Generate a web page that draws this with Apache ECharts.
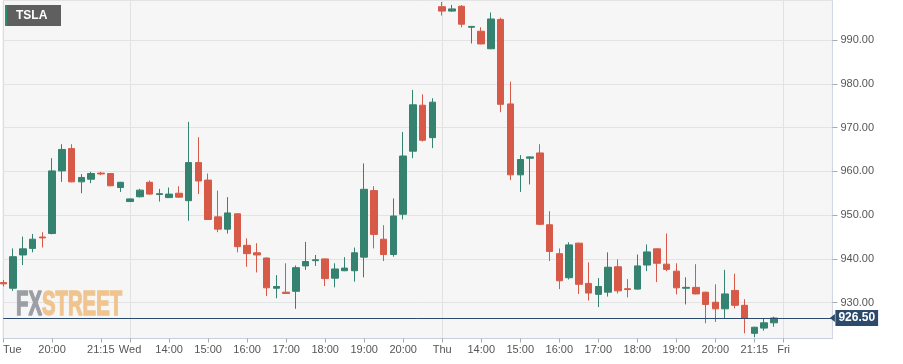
<!DOCTYPE html>
<html>
<head>
<meta charset="utf-8">
<script src="https://cdn.jsdelivr.net/npm/echarts@6/dist/echarts.min.js"></script>
<style>html,body{margin:0;padding:0;background:#fff}#c{width:903px;height:364px}</style>
</head>
<body>
<div id="c"></div>
<script>
// 15-minute candles: open, close, low, high
const opens  = [934.6,933.3,940.9,942.4,945.0,945.8,960.1,965.2,957.6,958.2,959.6,959.5,956.3,953.1,954.2,957.5,954.7,954.0,955.0,953.3,962.0,958.0,949.6,946.8,950.3,943.1,941.4,940.2,933.3,932.4,932.6,938.4,939.6,940.0,935.6,937.3,937.3,940.4,955.6,944.5,941.0,950.2,964.6,975.1,967.7,997.6,996.6,997.7,992.9,992.0,988.0,994.7,975.4,959.2,963.0,964.2,947.8,941.2,935.7,943.6,934.4,931.9,932.4,938.2,933.2,933.1,938.6,942.3,938.8,937.2,933.3,933.5,932.4,930.1,928.6,932.8,929.4,923.0,924.2,925.4];
const closes = [934.3,940.5,942.3,944.5,944.8,960.1,965.0,957.6,958.6,959.5,959.4,956.7,957.5,953.7,955.7,954.8,954.9,954.8,954.1,962.0,957.8,949.0,946.8,950.5,942.8,941.2,940.9,933.4,933.7,932.1,938.0,939.4,939.8,935.5,937.7,937.9,941.4,955.9,945.6,941.0,949.8,963.5,975.2,967.1,975.8,996.6,997.1,993.6,993.1,989.1,994.8,975.3,959.2,962.7,963.3,947.9,941.7,935.0,943.2,934.2,932.2,933.7,938.1,932.7,933.0,938.4,941.6,939.0,937.6,933.4,933.5,932.0,929.6,928.6,932.0,929.4,926.5,924.4,925.4,926.5];
const lows   = [933.7,932.7,938.6,941.5,942.6,945.6,957.6,957.5,955.0,957.3,959.1,956.6,955.3,953.0,954.0,954.7,953.1,953.9,954.0,948.7,954.8,948.9,946.1,945.8,941.5,938.2,936.9,931.5,931.0,932.0,928.6,937.5,938.4,933.8,933.5,937.2,934.8,935.8,942.4,939.5,940.5,949.0,963.0,966.8,965.3,995.6,996.5,992.9,989.2,989.0,987.9,973.5,958.0,955.3,957.0,947.7,939.5,933.1,935.3,932.0,930.5,929.0,931.4,932.1,931.2,933.0,937.2,934.7,937.2,931.9,929.6,931.9,925.3,925.6,926.5,928.7,923.0,922.1,923.6,924.5];
const highs  = [935.2,942.4,945.1,945.7,946.1,963.0,966.2,966.2,959.4,959.9,959.9,959.6,957.6,953.8,956.0,957.9,956.0,956.3,956.6,971.3,967.8,959.5,955.6,954.1,950.4,944.7,943.6,940.3,936.3,939.0,938.5,943.9,940.9,940.1,939.0,940.4,942.6,961.8,956.6,947.7,953.8,969.0,978.6,977.6,976.7,998.7,998.0,998.0,993.2,992.9,996.3,995.1,980.5,963.7,963.4,966.2,950.9,942.4,943.8,943.7,939.2,935.6,941.5,939.9,935.4,941.0,943.3,942.4,945.8,939.0,935.8,938.8,932.5,934.2,937.5,936.6,930.8,924.5,926.3,926.8];

// x-axis slots (80 candles + 6 empty slots) and tick labels
const slotCount = 86;
const tickIdx  = [0,5,10,13,17,21,25,29,33,37,41,45,49,53,57,61,65,69,73,77,80];
const tickText = ['Tue','20:00','21:15','Wed','14:00','15:00','16:00','17:00','18:00','19:00','20:00','Thu','14:00','15:00','16:00','17:00','18:00','19:00','20:00','21:15','Fri'];
const dayIdx   = [13,45,80];
const lastPrice = 926.5;
const yMin = 921.82, yMax = 999.02;
const symbolName = 'TSLA';

const categories = [];
for (let i = 0; i < slotCount; i++) categories.push(String(i));
const ohlc = opens.map((o, i) => [o, closes[i], lows[i], highs[i]]);

const chart = echarts.init(document.getElementById('c'));
const FONT = 'Liberation Sans, Arial, sans-serif';
chart.setOption({
  animation: false,
  backgroundColor: '#ffffff',
  grid: {
    left: 0.3, right: 70.6, top: 0.5, bottom: 25.5,
    show: true, backgroundColor: '#f6f6f6', borderColor: '#cdd3e3', borderWidth: 1
  },
  xAxis: {
    type: 'category',
    data: categories,
    boundaryGap: false,
    axisLine: { show: true, lineStyle: { color: '#c8cfdf', width: 1 } },
    axisTick: {
      show: true, length: 4, lineStyle: { color: '#a9a9a9' },
      interval: (i) => tickIdx.indexOf(i) >= 0
    },
    axisLabel: {
      show: true, color: '#555', fontSize: 11, fontFamily: FONT, margin: 6,
      interval: (i) => tickIdx.indexOf(i) >= 0,
      formatter: (v, i) => {
        const k = tickIdx.indexOf(Number(v));
        if (k < 0) return '';
        return k === 0 ? '{l|' + tickText[k] + '}' : tickText[k];
      },
      rich: { l: { padding: [0, 0, 0, 18], fontSize: 11, color: '#555', fontFamily: FONT } }
    },
    splitLine: {
      show: true, lineStyle: { color: '#e2e2e2', width: 1 },
      interval: (i) => dayIdx.indexOf(i) >= 0
    }
  },
  yAxis: {
    type: 'value',
    position: 'right',
    min: yMin, max: yMax,
    splitNumber: 8,
    scale: true,
    axisLine: { show: false },
    axisTick: { show: true, length: 5, lineStyle: { color: '#a9a9a9' } },
    axisLabel: {
      color: '#555', fontSize: 11, fontFamily: FONT, margin: 8,
      showMinLabel: false, showMaxLabel: false,
      formatter: (v) => v.toFixed(2)
    },
    splitLine: { show: true, lineStyle: { color: '#e3e3e3', width: 1 } }
  },
  graphic: [
    { type: 'rect', shape: { x: 5, y: 5, width: 56, height: 21 }, style: { fill: '#5f5f5f' }, z: 10 },
    { type: 'rect', shape: { x: 5, y: 5, width: 2, height: 21 }, style: { fill: '#2e8b6e' }, z: 11 },
    { type: 'text', x: 16, y: 16, z: 12,
      style: { text: symbolName, fill: '#ffffff', font: 'bold 12px Liberation Sans', verticalAlign: 'middle', align: 'left' } },
    { type: 'text', x: 16, y: 305, scaleX: 0.58, z: 1,
      style: { text: 'FX', fill: '#9c9ea6', font: 'bold 35px Liberation Sans', verticalAlign: 'middle', align: 'left',
               stroke: '#9c9ea6', lineWidth: 1.5 } },
    { type: 'text', x: 42, y: 305, scaleX: 0.58, z: 1,
      style: { text: 'STREET', fill: '#f0c48e', font: 'bold 35px Liberation Sans', verticalAlign: 'middle', align: 'left',
               stroke: '#f0c48e', lineWidth: 1.5 } }
  ],
  series: [{
    type: 'candlestick',
    data: ohlc,
    barWidth: 7,
    itemStyle: {
      color: '#34826f', color0: '#d65a47',
      borderColor: '#34826f', borderColor0: '#d65a47', borderWidth: 1
    },
    markLine: {
      silent: true,
      symbol: ['none', 'triangle'],
      symbolSize: [8, 5],
      symbolRotate: 90,
      lineStyle: { color: '#2b4a6e', width: 1, type: 'solid' },
      label: {
        show: true, position: 'end', distance: 3,
        formatter: () => lastPrice.toFixed(2),
        backgroundColor: '#2c4a6b', color: '#ffffff', fontWeight: 'bold',
        fontSize: 12, fontFamily: FONT, padding: [2, 3, 2, 3]
      },
      data: [{ yAxis: lastPrice }]
    }
  }]
});
</script>
</body>
</html>
